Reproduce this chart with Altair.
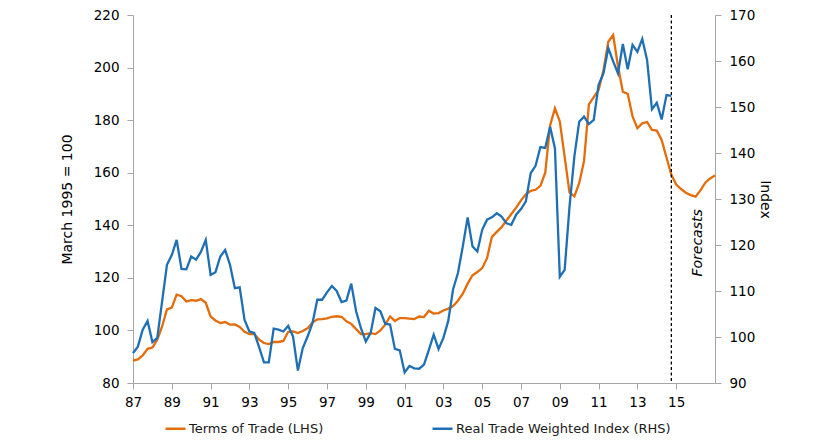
import altair as alt
import pandas as pd

START_YEAR = 1987  # first quarter of both series; data are quarterly

# Terms of Trade (LHS), March 1995 = 100, 1987Q1 .. 2017Q1 (forecast after 2014Q4)
tot_values = [
    88.5, 89.0, 90.5, 93.0,
    93.5, 96.5, 101.5, 108.0,
    108.7, 113.6, 113.0, 111.0,
    111.5, 111.3, 111.9, 110.5,
    105.3, 103.8, 102.8, 103.2,
    102.2, 102.3, 101.3, 99.5,
    98.6, 98.6, 96.5, 95.2,
    94.8, 95.6, 95.6, 96.0,
    99.5, 99.6, 99.0, 99.8,
    100.8, 103.0, 104.2, 104.3,
    104.6, 105.2, 105.4, 105.2,
    103.5, 102.5, 100.5, 98.6,
    98.6, 99.0, 98.6, 100.0,
    102.2, 105.3, 103.6, 104.7,
    104.7, 104.5, 104.3, 105.3,
    105.1, 107.5, 106.4, 106.6,
    107.6, 108.3, 109.3, 111.3,
    114.0, 117.8, 121.0, 122.2,
    123.7, 127.5, 135.6, 137.5,
    139.3, 141.8, 144.3, 146.7,
    149.5, 151.8, 153.1, 153.5,
    155.0, 160.0, 178.0, 184.5,
    179.5, 166.0, 152.5, 151.0,
    156.0, 164.5, 186.0, 188.8,
    191.5, 199.0, 209.8, 212.4,
    200.5, 190.8, 190.0, 181.4,
    176.9, 178.8, 179.3, 176.3,
    176.0, 172.5, 165.8, 159.2,
    155.5, 153.8, 152.4, 151.5,
    150.9, 153.3, 156.2, 157.8,
    158.9,
]

# Real Trade Weighted Index (RHS), 1987Q1 .. 2014Q4
rtwi_values = [
    96.5, 97.9, 101.6, 103.5,
    98.9, 99.8, 107.7, 115.7,
    117.8, 121.1, 114.8, 114.7,
    117.5, 116.8, 118.5, 121.1,
    113.5, 114.1, 117.5, 118.9,
    115.7, 110.6, 110.8, 103.7,
    101.2, 100.9, 97.8, 94.5,
    94.5, 101.8, 101.6, 101.2,
    102.4, 100.1, 92.7, 97.6,
    100.1, 103.0, 108.1, 108.1,
    109.7, 111.1, 110.0, 107.6,
    107.9, 111.6, 105.6, 101.9,
    99.0, 100.9, 106.3, 105.6,
    102.9, 102.7, 97.4, 97.1,
    92.3, 93.7, 93.2, 93.1,
    94.0, 97.2, 100.5, 97.4,
    99.8, 103.5, 110.4, 113.9,
    119.7, 126.0, 119.7, 118.6,
    123.3, 125.5, 126.0, 126.9,
    126.2, 124.7, 124.4, 126.6,
    127.8, 129.5, 135.6, 137.2,
    141.3, 141.1, 145.7, 141.0,
    113.1, 114.6, 128.3, 139.2,
    146.8, 147.9, 146.3, 147.2,
    154.8, 157.3, 162.8, 159.9,
    157.3, 163.7, 158.2, 163.5,
    162.0, 164.8, 160.2, 149.5,
    150.9, 147.3, 152.6, 152.4,
]

series_names = ["Terms of Trade (LHS)", "Real Trade Weighted Index (RHS)"]
series_colors = ["#E46C0A", "#1F6FB5"]

x_domain = [1987, 2017]
x_ticks = [1987, 1989, 1991, 1993, 1995, 1997, 1999, 2001, 2003, 2005,
           2007, 2009, 2011, 2013, 2015]
left_domain = [80, 220]
left_ticks = [80, 100, 120, 140, 160, 180, 200, 220]
right_domain = [90, 170]
right_ticks = [90, 100, 110, 120, 130, 140, 150, 160, 170]

forecast_start = [2014.75]
forecast_label = ["Forecasts"]
forecast_label_pos_t = [2016.11]
forecast_label_pos_v = [133.3]

FONT = "DejaVu Sans"


def quarters(n):
    return [START_YEAR + 0.25 * i for i in range(n)]


df_tot = pd.DataFrame({"t": quarters(len(tot_values)), "v": tot_values,
                       "series": series_names[0]})
df_rtwi = pd.DataFrame({"t": quarters(len(rtwi_values)), "v": rtwi_values,
                        "series": series_names[1]})
df_rule = pd.DataFrame({"t": forecast_start})
df_text = pd.DataFrame({"t": forecast_label_pos_t, "v": forecast_label_pos_v,
                        "label": forecast_label})

x_scale = alt.Scale(domain=x_domain, nice=False, zero=False)
x_axis = alt.Axis(values=x_ticks, labelExpr="substring(toString(datum.value), 2, 4)",
                  title=None, labelFlush=False, labelPadding=6)
x_main = alt.X("t:Q", scale=x_scale, axis=x_axis)

y_left = alt.Y(
    "v:Q", scale=alt.Scale(domain=left_domain, nice=False, zero=False),
    axis=alt.Axis(orient="left", values=left_ticks, title="March 1995 = 100",
                  titlePadding=19, labelFlush=False),
)
y_right = alt.Y(
    "v:Q", scale=alt.Scale(domain=right_domain, nice=False, zero=False),
    axis=alt.Axis(orient="right", values=right_ticks, title="Index",
                  titlePadding=3, labelFlush=False),
)

color_enc = alt.Color(
    "series:N",
    scale=alt.Scale(domain=series_names, range=series_colors),
    legend=alt.Legend(
        title=None, orient="none", legendX=31, legendY=402, direction="horizontal",
        symbolType="stroke", symbolSize=400, symbolStrokeWidth=2.5,
        labelFont=FONT, labelFontSize=13, labelColor="#1a1a1a", labelLimit=500,
        labelOffset=2, columnPadding=103,
    ),
)

orange = alt.Chart(df_tot).mark_line(strokeWidth=2.3).encode(
    x=x_main, y=y_left, color=color_enc,
)

rule = alt.Chart(df_rule).mark_rule(color="black", strokeDash=[3, 2.5], strokeWidth=1.3).encode(
    x=x_main,
)

text = alt.Chart(df_text).mark_text(
    angle=270, fontStyle="italic", fontSize=14, font=FONT, color="black",
    align="center", baseline="middle",
).encode(
    x=x_main, y=y_left, text="label:N",
)

blue = alt.Chart(df_rtwi).mark_line(strokeWidth=2.3).encode(
    x=x_main, y=y_right, color=color_enc,
)

left_layer = alt.layer(orange, rule, text)

chart = alt.layer(left_layer, blue).resolve_scale(y="independent").properties(
    width=582, height=368,
    autosize=alt.AutoSizeParams(type="none"),
    padding={"left": 133, "top": 15, "right": 125, "bottom": 61},
    background="white",
).configure_view(strokeWidth=0).configure_axis(
    domainColor="#A6A6A6", tickColor="#A6A6A6", tickSize=6, grid=False,
    labelFont=FONT, labelFontSize=13.5, labelColor="#000000", labelPadding=8,
    titleFont=FONT, titleFontSize=14, titleFontWeight="normal", titleColor="#000000",
)

chart.save("out.html", embed_options={"renderer": "svg", "actions": False})
